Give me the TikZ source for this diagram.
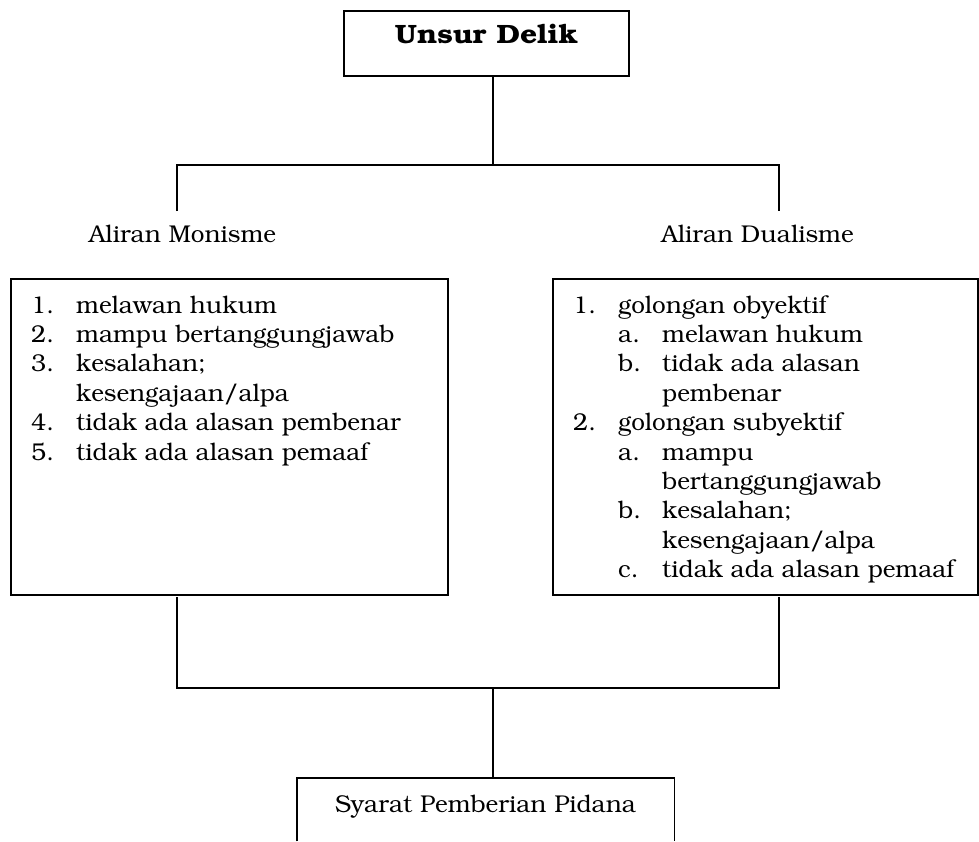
\documentclass[tikz,border=0pt]{standalone}
\usepackage[T1]{fontenc}
\usepackage{bookman}
\usepackage{graphicx}
\newcommand{\bk}{\fontsize{24.3}{29.4}\selectfont}
\newcommand{\bkb}{\fontsize{26.5}{30}\selectfont\bfseries}
\begin{document}
\begin{tikzpicture}[x=1pt,y=-1pt,
  box/.style={draw, line width=1.6pt, inner sep=0pt, anchor=north west},
  openbox/.style={inner sep=0pt, anchor=north west},
  boxline/.style={line width=1.6pt},
  conn/.style={line width=1.2pt},
  txt/.style={anchor=base west, inner sep=0pt, font=\bk},
  ctxt/.style={anchor=base, inner sep=0pt, font=\bk}]
\useasboundingbox (0,0) rectangle (979,841);
% top box
\node[box, minimum width=285pt, minimum height=65pt] (top) at (343,10) {};
\node[anchor=base, inner sep=0pt, font=\bkb] (toplbl) at (486.5,43) {\scalebox{1.13}[1]{Unsur Delik}};
% branch labels
\node[ctxt] (mon) at (182.5,242) {Aliran Monisme};
\node[ctxt] (dual) at (757.5,242) {Aliran Dualisme};
% junctions
\coordinate (j1) at (493,165);
\coordinate (mt) at (177,211);
\coordinate (dt) at (779,211);
\draw[conn] (top.south -| j1) -- (j1);
\draw[conn] (mt) |- (j1) -| (dt);
% left box
\node[box, minimum width=437pt, minimum height=316pt] (monbox) at (10,278) {};
\node[txt] (m1n) at (31,313) {1.};
\node[txt] (m1) at (76,313) {melawan hukum};
\node[txt] (m2n) at (31,342.4) {2.};
\node[txt] (m2) at (76,342.4) {mampu bertanggungjawab};
\node[txt] (m3n) at (31,371.8) {3.};
\node[txt] (m3) at (76,371.8) {kesalahan;};
\node[txt] (m3b) at (76,401.2) {kesengajaan/alpa};
\node[txt] (m4n) at (31,430.6) {4.};
\node[txt] (m4) at (76,430.6) {tidak ada alasan pembenar};
\node[txt] (m5n) at (31,460) {5.};
\node[txt] (m5) at (76,460) {tidak ada alasan pemaaf};
% right box
\node[box, minimum width=425pt, minimum height=316pt] (dualbox) at (552,278) {};
\node[txt] (d1n) at (573,313) {1.};
\node[txt] (d1) at (618,313) {golongan obyektif};
\node[txt] (d1an) at (618,342.4) {a.};
\node[txt] (d1a) at (662,342.4) {melawan hukum};
\node[txt] (d1bn) at (618,371.8) {b.};
\node[txt] (d1b) at (662,371.8) {tidak ada alasan};
\node[txt] (d1b2) at (662,401.2) {pembenar};
\node[txt] (d2n) at (573,430.6) {2.};
\node[txt] (d2) at (618,430.6) {golongan subyektif};
\node[txt] (d2an) at (618,460) {a.};
\node[txt] (d2a) at (662,460) {mampu};
\node[txt] (d2a2) at (662,489.4) {bertanggungjawab};
\node[txt] (d2bn) at (618,518.8) {b.};
\node[txt] (d2b) at (662,518.8) {kesalahan;};
\node[txt] (d2b2) at (662,548.2) {kesengajaan/alpa};
\node[txt] (d2cn) at (618,577.6) {c.};
\node[txt] (d2c) at (662,577.6) {tidak ada alasan pemaaf};
% lower connectors
\coordinate (j2) at (493,688);
\coordinate (mb) at (177,597);
\coordinate (db) at (779,597);
\draw[conn] (mb) |- (j2) -| (db);
% bottom box (cut by the page edge)
\node[openbox, minimum width=377pt, minimum height=63pt] (bot) at (297,778) {};
\draw[boxline] (bot.south west) -- (bot.north west) -- (bot.north east) -- (bot.south east);
\node[ctxt] (botlbl) at (485.5,812) {Syarat Pemberian Pidana};
\draw[conn] (j2) -- (j2 |- bot.north);
\end{tikzpicture}
\end{document}
